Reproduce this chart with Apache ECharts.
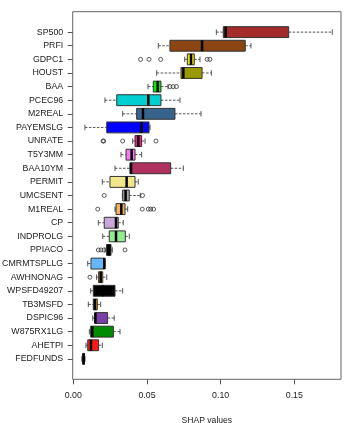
<!DOCTYPE html>
<html>
<head>
<meta charset="utf-8">
<script src="https://cdn.jsdelivr.net/npm/echarts@6/dist/echarts.min.js"></script>
<style>
  html, body { margin: 0; padding: 0; background: #fff; }
  #chart { width: 353px; height: 423px; }
</style>
</head>
<body>
<div id="chart"></div>
<script>
// variables, top to bottom
const variables = ['SP500', 'PRFI', 'GDPC1', 'HOUST', 'BAA', 'PCEC96', 'M2REAL', 'PAYEMSLG',
  'UNRATE', 'T5Y3MM', 'BAA10YM', 'PERMIT', 'UMCSENT', 'M1REAL', 'CP', 'INDPROLG', 'PPIACO',
  'CMRMTSPLLG', 'AWHNONAG', 'WPSFD49207', 'TB3MSFD', 'DSPIC96', 'W875RX1LG', 'AHETPI', 'FEDFUNDS']

// box stats
const minVals = [0.0971, 0.0577, 0.0756, 0.0566, 0.0507, 0.0215, 0.0335, 0.0079,
  0.0403, 0.0324, 0.0283, 0.0197, 0.0333, 0.0283, 0.0170, 0.0200, 0.0215,
  0.0098, 0.0158, 0.0118, 0.0102, 0.0132, 0.0109, 0.0086, 0.0058]
const q1Vals = [0.1018, 0.0656, 0.0774, 0.0731, 0.0543, 0.0295, 0.0430, 0.0227,
  0.0419, 0.0358, 0.0385, 0.0249, 0.0335, 0.0290, 0.0210, 0.0244, 0.0226,
  0.0120, 0.0172, 0.0136, 0.0136, 0.0147, 0.0118, 0.0098, 0.0064]
const medVals = [0.1034, 0.0874, 0.0799, 0.0747, 0.0573, 0.0509, 0.0473, 0.0464,
  0.0441, 0.0396, 0.0392, 0.0362, 0.0355, 0.0326, 0.0290, 0.0290, 0.0242,
  0.0210, 0.0186, 0.0200, 0.0147, 0.0150, 0.0129, 0.0120, 0.0070]
const q3Vals = [0.1462, 0.1167, 0.0821, 0.0874, 0.0595, 0.0595, 0.0690, 0.0514,
  0.0464, 0.0419, 0.0661, 0.0419, 0.0380, 0.0351, 0.0305, 0.0353, 0.0256,
  0.0215, 0.0200, 0.0283, 0.0163, 0.0233, 0.0272, 0.0172, 0.0075]
const maxVals = [0.1758, 0.1206, 0.0860, 0.0937, 0.0643, 0.0724, 0.0867, 0.0521,
  0.0487, 0.0464, 0.0747, 0.0441, 0.0455, 0.0369, 0.0339, 0.0380, 0.0265,
  0.0215, 0.0227, 0.0335, 0.0186, 0.0278, 0.0317, 0.0197, 0.0080]
const outliers = [[], [], [0.0457, 0.0514, 0.0593, 0.0909, 0.0927], [], [0.0656, 0.0677, 0.0700],
  [], [], [], [0.0202, 0.0206, 0.0335, 0.0561], [], [], [], [0.0210, 0.0470],
  [0.0166, 0.0468, 0.0509, 0.0525, 0.0545], [], [], [0.0170, 0.0188, 0.0208, 0.0351],
  [], [0.0113], [], [], [], [], [], []]

const boxColors = ['#A52A2A', '#8B4513', '#E6E600', '#999900', '#00EE00', '#00CED1', '#36648B', '#0000FF',
  '#FF1493', '#F57AF0', '#B03060', '#F0E68C', '#A9A9A9', '#F9B25E', '#C9A7D9', '#90EE90', '#000000',
  '#63B8FF', '#DAA520', '#000000', '#FF8C00', '#7A3FA6', '#008B00', '#FF1A1A', '#000000']

const xTicks = [0, 0.05, 0.1, 0.15]
const yTicks = variables.map((_, i) => i)

const font = 'Liberation Sans, Arial, sans-serif'

const boxData = variables.map((_, i) => [i, minVals[i], q1Vals[i], medVals[i], q3Vals[i], maxVals[i]])
const outlierData = []
outliers.forEach((list, i) => list.forEach(v => outlierData.push([v, i])))

// R style box: dashed whiskers, half-width staples, thick median
const renderBox = (params, api) => {
  const i = api.value(0)
  const unit = api.size([0, 1])[1]
  const half = unit * 0.4
  const cap = unit * 0.2
  const y = api.coord([0, i])[1]
  const px = k => api.coord([api.value(k), i])[0]
  const xMin = px(1), xQ1 = px(2), xMed = px(3), xQ3 = px(4), xMax = px(5)
  const dash = { stroke: '#555', lineWidth: 1, lineDash: [2.5, 1.5] }
  const solid = { stroke: '#555', lineWidth: 1 }
  return {
    type: 'group',
    children: [
      { type: 'line', shape: { x1: xMin, y1: y, x2: xQ1, y2: y }, style: dash },
      { type: 'line', shape: { x1: xQ3, y1: y, x2: xMax, y2: y }, style: dash },
      { type: 'line', shape: { x1: xMin, y1: y - cap, x2: xMin, y2: y + cap }, style: solid },
      { type: 'line', shape: { x1: xMax, y1: y - cap, x2: xMax, y2: y + cap }, style: solid },
      {
        type: 'rect',
        shape: { x: xQ1, y: y - half, width: xQ3 - xQ1, height: 2 * half },
        style: { fill: boxColors[i], stroke: '#333', lineWidth: 1 }
      },
      { type: 'line', shape: { x1: xMed, y1: y - half, x2: xMed, y2: y + half }, style: { stroke: '#000', lineWidth: 2.5 } }
    ]
  }
}

const chart = echarts.init(document.getElementById('chart'))

chart.setOption({
  animation: false,
  backgroundColor: '#fff',
  grid: {
    left: 72.7,
    right: 12,
    top: 11.7,
    bottom: 43.7,
    show: true,
    borderColor: '#666',
    borderWidth: 1,
    outerBoundsMode: 'none'
  },
  xAxis: {
    type: 'value',
    min: -0.0004,
    max: 0.1817,
    splitLine: { show: false },
    axisLine: { show: false, onZero: false },
    axisTick: { show: true, customValues: xTicks, length: 5, lineStyle: { color: '#555' } },
    axisLabel: {
      customValues: xTicks,
      formatter: v => v.toFixed(2),
      fontSize: 8.8,
      fontFamily: font,
      color: '#222',
      margin: 12
    },
    name: 'SHAP values',
    nameLocation: 'middle',
    nameGap: 37,
    nameTextStyle: { fontSize: 8.6, fontFamily: font, color: '#222' }
  },
  yAxis: {
    type: 'value',
    inverse: true,
    min: -1.5,
    max: 25.5,
    splitLine: { show: false },
    axisLine: { show: false, onZero: false },
    axisTick: { show: true, customValues: yTicks, length: 5, lineStyle: { color: '#555' } },
    axisLabel: {
      customValues: yTicks,
      formatter: v => variables[v],
      fontSize: 8.8,
      fontFamily: font,
      color: '#222',
      margin: 9.5
    }
  },
  series: [
    {
      type: 'custom',
      renderItem: renderBox,
      encode: { y: 0, x: [1, 2, 3, 4, 5] },
      data: boxData
    },
    {
      type: 'scatter',
      symbol: 'circle',
      symbolSize: 4,
      itemStyle: { color: 'rgba(0,0,0,0)', borderColor: '#333', borderWidth: 1 },
      data: outlierData
    }
  ]
})
</script>
</body>
</html>
